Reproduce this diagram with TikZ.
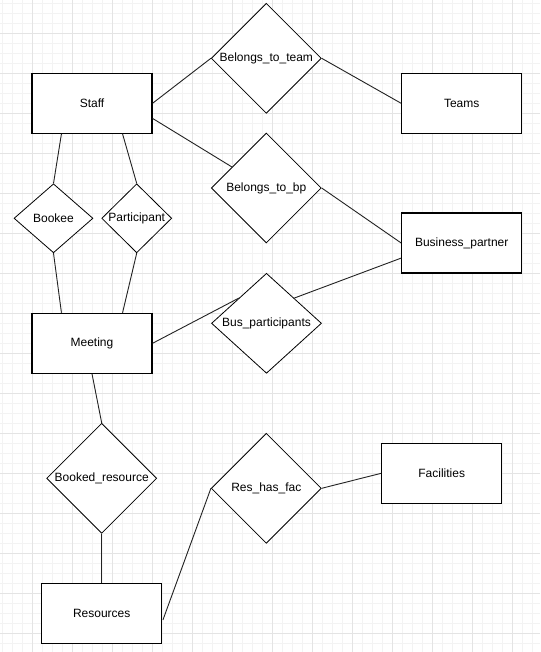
\documentclass[tikz,border=0pt]{standalone}
\usepackage{fontspec}
\setmainfont{Liberation Sans}
\usetikzlibrary{shapes.geometric}
\definecolor{gridminor}{HTML}{F3F3F3}
\definecolor{gridmajor}{HTML}{E4E4E4}
\definecolor{edgecol}{HTML}{222222}
\begin{document}
\begin{tikzpicture}[x=1pt,y=-1pt,
  lbl/.style={font=\fontsize{12}{14}\selectfont, text=black},
  entity/.style={lbl, draw=black, fill=white, line width=1.1pt,
    minimum width=120pt, minimum height=60pt, inner sep=0pt},
  rel/.style={lbl, diamond, draw=black, fill=white, line width=0.8pt,
    inner sep=0pt, minimum width=110pt, minimum height=110pt},
  conn/.style={draw=edgecol, line width=0.9pt}]
  % page and background grid
  \useasboundingbox (0,0) rectangle (540,652);
  \fill[white] (0,0) rectangle (540,652);
  \foreach \i in {0,...,53} \draw[gridminor, line width=0.8pt] ({2+10*\i},0) -- ({2+10*\i},652);
  \foreach \i in {0,...,64} \draw[gridminor, line width=0.8pt] (0,{3.3+10*\i}) -- (540,{3.3+10*\i});
  \foreach \i in {0,...,12} \draw[gridmajor, line width=0.8pt] ({32+40*\i},0) -- ({32+40*\i},652);
  \foreach \i in {0,...,15} \draw[gridmajor, line width=0.8pt] (0,{33.3+40*\i}) -- (540,{33.3+40*\i});

  % entities
  \node[entity] (staff)      at (92,103.3)    {Staff};
  \node[entity] (teams)      at (461.7,103.3) {Teams};
  \node[entity] (bpartner)   at (461.7,243)   {Business\_partner};
  \node[entity] (meeting)    at (92,343.3)    {Meeting};
  \node[entity] (resources)  at (101.7,613.3) {Resources};
  \node[entity] (facilities) at (441.7,473.3) {Facilities};

  % relationships
  \node[rel] (bteam)  at (266.3,58.3)  {Belongs\_to\_team};
  \node[rel] (bbp)    at (266.3,188)   {Belongs\_to\_bp};
  \node[rel, minimum width=79pt, minimum height=69pt] (bookee) at (53.5,218.3) {Bookee};
  \node[rel, minimum width=70pt, minimum height=69pt] (part)   at (136.7,218.3) {Participant};
  \node[rel, minimum height=100pt] (busp) at (266.5,323.3) {Bus\_participants};
  \node[rel] (booked) at (101.7,478.3) {Booked\_resource};
  \node[rel] (resfac) at (266.3,488.3) {Res\_has\_fac};

  % connectors
  \draw[conn] (staff.east) -- (bteam.west);
  \draw[conn] (bteam.east) -- (teams.west);
  \draw[conn] (staff.-14) -- (bbp);
  \draw[conn] (bbp.east) -- (bpartner.west);
  \draw[conn] (staff.-135) -- (bookee.north);
  \draw[conn] (bookee.south) -- (meeting.135);
  \draw[conn] (staff.-45) -- (part.north);
  \draw[conn] (part.south) -- (meeting.45);
  \draw[conn] (meeting.east) -- (busp.north west);
  \draw[conn] (busp.north east) -- (bpartner.194);
  \draw[conn] (meeting.south) -- (booked.north);
  \draw[conn] (booked.south) -- (resources.north);
  \draw[conn, shorten <=2pt] (resources.-8) -- (resfac.west);
  \draw[conn] (resfac.east) -- (facilities.west);
\end{tikzpicture}
\end{document}
